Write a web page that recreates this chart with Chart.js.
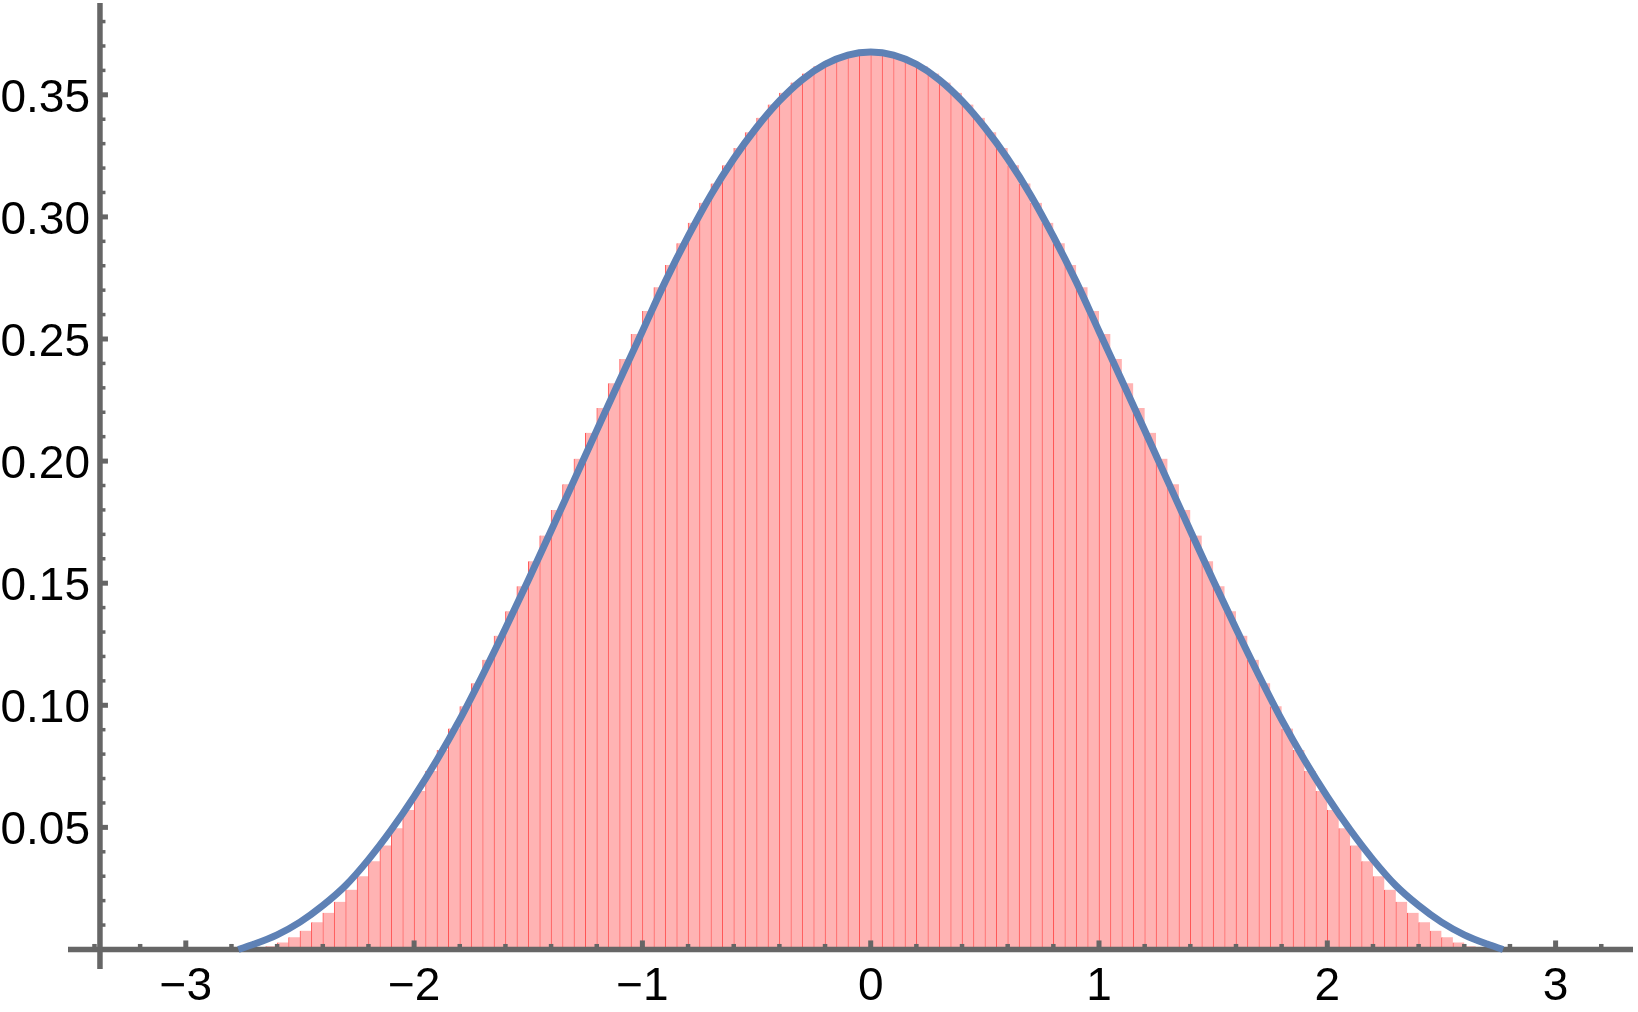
<!DOCTYPE html>
<html>
<head>
<meta charset="utf-8">
<title>Histogram with density curve</title>
<script src="https://cdn.jsdelivr.net/npm/chart.js@4.4.1/dist/chart.umd.min.js"></script>
<style>
  html, body { margin: 0; padding: 0; background: #ffffff; }
  canvas { display: block; }
</style>
</head>
<body>
<canvas id="chart" width="1638" height="1012"></canvas>
<script>
// histogram bins: start at -2.75, each 0.05 wide
const binStart = -2.75;
const binWidth = 0.05;
const barHeights = [
    0.0001, 0.0004, 0.0013, 0.0029, 0.0050, 0.0077, 0.0111, 0.0150, 0.0195, 0.0245,
    0.0300, 0.0361, 0.0426, 0.0496, 0.0571, 0.0649, 0.0731, 0.0817, 0.0905, 0.0996,
    0.1090, 0.1186, 0.1285, 0.1385, 0.1487, 0.1590, 0.1695, 0.1800, 0.1905, 0.2010,
    0.2116, 0.2217, 0.2319, 0.2418, 0.2520, 0.2615, 0.2712, 0.2803, 0.2892, 0.2976,
    0.3058, 0.3137, 0.3212, 0.3282, 0.3347, 0.3406, 0.3460, 0.3508, 0.3550, 0.3587,
    0.3617, 0.3641, 0.3660, 0.3672, 0.3678,
    0.3678, 0.3672, 0.3660, 0.3641, 0.3617, 0.3587, 0.3550, 0.3508, 0.3460, 0.3406,
    0.3347, 0.3282, 0.3212, 0.3137, 0.3058, 0.2976, 0.2892, 0.2803, 0.2712, 0.2615,
    0.2520, 0.2418, 0.2319, 0.2217, 0.2116, 0.2010, 0.1905, 0.1800, 0.1695, 0.1590,
    0.1487, 0.1385, 0.1285, 0.1186, 0.1090, 0.0996, 0.0905, 0.0817, 0.0731, 0.0649,
    0.0571, 0.0496, 0.0426, 0.0361, 0.0300, 0.0245, 0.0195, 0.0150, 0.0111, 0.0077,
    0.0050, 0.0029, 0.0013, 0.0004, 0.0001
];

// density curve
const curveX = [
    -2.77, -2.7, -2.6, -2.5, -2.4, -2.3, -2.2, -2.1, -2.0, -1.9, -1.8, -1.7, -1.6, -1.5,
    -1.4, -1.3, -1.2, -1.1, -1.0, -0.9, -0.8, -0.7, -0.6, -0.5, -0.4, -0.3, -0.2, -0.1,
    0,
    0.1, 0.2, 0.3, 0.4, 0.5, 0.6, 0.7, 0.8, 0.9, 1.0, 1.1, 1.2, 1.3, 1.4,
    1.5, 1.6, 1.7, 1.8, 1.9, 2.0, 2.1, 2.2, 2.3, 2.4, 2.5, 2.6, 2.7, 2.77
];
const curveY = [
    0, 0.0022, 0.0060, 0.0112, 0.0180, 0.0262, 0.0368, 0.0490, 0.0626, 0.0776, 0.0941, 0.1123, 0.1314, 0.1512,
    0.1715, 0.1920, 0.2126, 0.2330, 0.2532, 0.2735, 0.2920, 0.3090, 0.3238, 0.3366, 0.3475, 0.3562, 0.3625, 0.3663,
    0.3675,
    0.3663, 0.3625, 0.3562, 0.3475, 0.3366, 0.3238, 0.3090, 0.2920, 0.2735, 0.2532, 0.2330, 0.2126, 0.1920, 0.1715,
    0.1512, 0.1314, 0.1123, 0.0941, 0.0776, 0.0626, 0.0490, 0.0368, 0.0262, 0.0180, 0.0112, 0.0060, 0.0022, 0
];

const xTickValues = [-3, -2, -1, 0, 1, 2, 3];
const xTickLabels = ['\u22123', '\u22122', '\u22121', '0', '1', '2', '3'];
const yTickValues = [0.05, 0.10, 0.15, 0.20, 0.25, 0.30, 0.35];
const yTickLabels = ['0.05', '0.10', '0.15', '0.20', '0.25', '0.30', '0.35'];

const xRange = [-3.516, 3.339];
const yRange = [-0.008, 0.3876];
const yAxisCrossing = -3.376;

const axisColor = '#666666';
const labelFont = '46px "Liberation Sans", Arial, sans-serif';

// axes with inward ticks, drawn after the bars but before the curve
const axesPlugin = {
    id: 'mmaAxes',
    afterDatasetDraw(chart, args) {
        if (args.index !== 0) return;
        const ctx = chart.ctx;
        const xs = chart.scales.x;
        const ys = chart.scales.y;
        const area = chart.chartArea;
        const x0 = xs.getPixelForValue(yAxisCrossing);
        const y0 = ys.getPixelForValue(0);

        ctx.save();
        ctx.strokeStyle = axisColor;
        ctx.lineCap = 'butt';

        // x ticks
        for (let v = -3.4; v < 3.3; v += 0.2) {
            const r = Math.round(v * 10) / 10;
            const major = Math.abs(r - Math.round(r)) < 1e-6;
            const px = xs.getPixelForValue(r);
            ctx.lineWidth = major ? 5 : 4.5;
            ctx.beginPath();
            ctx.moveTo(px, y0);
            ctx.lineTo(px, y0 - (major ? 9 : 5.5));
            ctx.stroke();
        }
        // y ticks
        for (let i = 1; i <= 38; i++) {
            const v = i / 100;
            const major = i % 5 === 0;
            const py = ys.getPixelForValue(v);
            ctx.lineWidth = major ? 5 : 3.5;
            ctx.beginPath();
            ctx.moveTo(x0, py);
            ctx.lineTo(x0 + (major ? 8 : 5.5), py);
            ctx.stroke();
        }

        // axis lines
        ctx.lineWidth = 5.5;
        ctx.beginPath();
        ctx.moveTo(area.left, y0);
        ctx.lineTo(area.right, y0);
        ctx.stroke();
        ctx.beginPath();
        ctx.moveTo(x0, area.top);
        ctx.lineTo(x0, area.bottom);
        ctx.stroke();

        // labels
        ctx.fillStyle = '#000000';
        ctx.font = labelFont;
        ctx.textBaseline = 'alphabetic';
        ctx.textAlign = 'center';
        xTickValues.forEach((v, i) => {
            ctx.fillText(xTickLabels[i], xs.getPixelForValue(v), y0 + 50.5);
        });
        ctx.textAlign = 'right';
        yTickValues.forEach((v, i) => {
            ctx.fillText(yTickLabels[i], 90, ys.getPixelForValue(v) + 17);
        });
        ctx.restore();
    }
};

const barData = barHeights.map((h, i) => ({ x: binStart + (i + 0.5) * binWidth, y: h }));
const curveData = curveX.map((x, i) => ({ x: x, y: curveY[i] }));

new Chart(document.getElementById('chart').getContext('2d'), {
    type: 'bar',
    data: {
        datasets: [{
            type: 'bar',
            data: barData,
            backgroundColor: 'rgb(255, 179, 179)',
            borderColor: 'rgb(255, 85, 85)',
            borderWidth: { left: 1, right: 0, top: 0, bottom: 0 },
            borderSkipped: false,
            barPercentage: 1,
            categoryPercentage: 1,
            order: 1
        }, {
            type: 'line',
            data: curveData,
            borderColor: '#5E81B5',
            borderWidth: 7,
            pointRadius: 0,
            fill: false,
            cubicInterpolationMode: 'monotone',
            clip: false,
            order: 0
        }]
    },
    options: {
        responsive: false,
        animation: false,
        devicePixelRatio: 1,
        layout: { padding: { left: 68, right: 5, top: 3, bottom: 43 } },
        plugins: { legend: { display: false }, tooltip: { enabled: false } },
        scales: {
            x: { type: 'linear', min: xRange[0], max: xRange[1], offset: false, display: false },
            y: { type: 'linear', min: yRange[0], max: yRange[1], display: false }
        }
    },
    plugins: [axesPlugin]
});
</script>
</body>
</html>
